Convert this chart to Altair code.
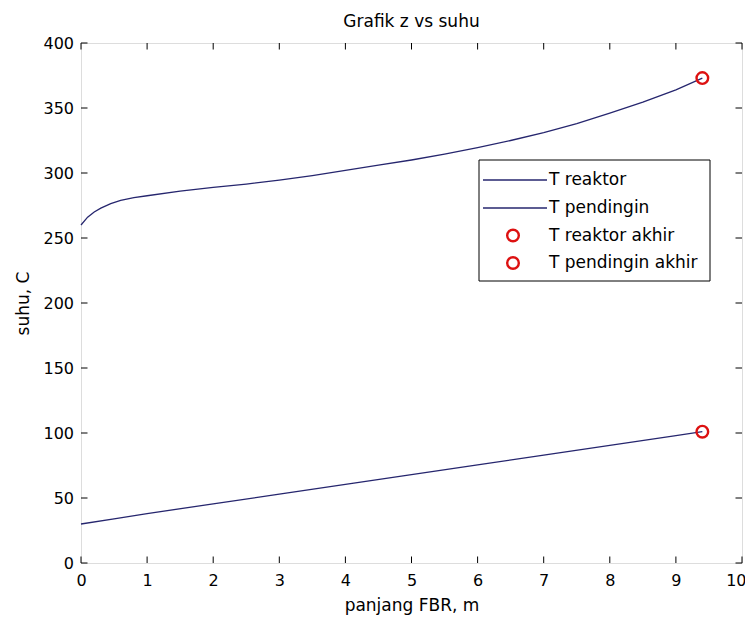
import altair as alt
import pandas as pd

# ---- data ----
x_reaktor = [0, 0.1, 0.2, 0.3, 0.45, 0.6, 0.8, 1.0, 1.5, 2.0, 2.5, 3.0, 3.5, 4.0,
             4.5, 5.0, 5.5, 6.0, 6.5, 7.0, 7.5, 8.0, 8.5, 9.0, 9.4]
t_reaktor = [260, 266, 270, 273, 276.5, 279, 281, 282.5, 286, 289, 291.5, 294.5, 298, 302,
             306, 310, 314.5, 319.5, 325, 331, 338, 346, 354.5, 364, 373]
x_pendingin = [0, 0.5, 1, 2, 3, 4, 5, 6, 7, 8, 9, 9.4]
t_pendingin = [30, 34, 38, 45.5, 53, 60.5, 68, 75.5, 83, 90.5, 98, 101]
end_x = [9.4, 9.4]
end_t = [373, 101]
legend_labels = ["T reaktor", "T pendingin", "T reaktor akhir", "T pendingin akhir"]
x_ticks = list(range(0, 11))
y_ticks = list(range(0, 401, 50))
chart_title = "Grafik z vs suhu"

W, H = 661, 520
LINE = "#26266e"
RED = "#dd1111"
FONT = "DejaVu Sans"
TL = 6.5
MSIZE = 135
MSTROKE = 2.4

lines_df = pd.DataFrame({
    "x": x_reaktor + x_pendingin,
    "t": t_reaktor + t_pendingin,
    "series": [legend_labels[0]] * len(x_reaktor) + [legend_labels[1]] * len(x_pendingin),
})
end_df = pd.DataFrame({"x": end_x, "t": end_t, "series": legend_labels[2:]})
xt_df = pd.DataFrame({"x": x_ticks})
yt_df = pd.DataFrame({"t": y_ticks})

xs = alt.Scale(domain=[0, 10], nice=False, zero=False)
ys = alt.Scale(domain=[0, 400], nice=False, zero=False)

last_x = x_ticks[-1]
axis_x = alt.Axis(values=x_ticks, format="d", ticks=False, tickSize=0, domain=False, grid=False,
                  labelFlush=False, labelPadding=9, labelFont=FONT, labelFontSize=16,
                  labelColor="black", labelOverlap=False,
                  labelAlign={"condition": {"test": f"datum.value === {last_x}", "value": "right"},
                              "value": "center"},
                  labelOffset={"condition": {"test": f"datum.value === {last_x}", "value": 4},
                               "value": 0},
                  title="panjang FBR, m", titleFont=FONT, titleFontSize=17, titleFontWeight="normal",
                  titleColor="black", titleX=W / 2, titleY=47, titleBaseline="alphabetic",
                  titleAlign="center")
axis_y = alt.Axis(values=y_ticks, format="d", ticks=False, tickSize=0, domain=False, grid=False,
                  labelFlush=False, labelPadding=7.5, labelFont=FONT, labelFontSize=16,
                  labelColor="black", labelBaseline="middle", labelOverlap=False,
                  title="suhu, C", titleFont=FONT, titleFontSize=17, titleFontWeight="normal",
                  titleColor="black", titleX=-58, titleY=H / 2, titleAngle=-90,
                  titleBaseline="middle", titleAlign="center")

X = alt.X("x:Q", scale=xs, axis=axis_x)
Y = alt.Y("t:Q", scale=ys, axis=axis_y)

lines = alt.Chart(lines_df).mark_line(color=LINE, strokeWidth=1.3).encode(
    x=X, y=Y, detail="series:N", order="x:Q")
ends = alt.Chart(end_df).mark_point(shape="circle", filled=False, color=RED, size=MSIZE,
                                    strokeWidth=MSTROKE, opacity=1).encode(x=X, y=Y)

xt_bottom = alt.Chart(xt_df).mark_rule(color="black", strokeWidth=1).encode(
    x=X, y=alt.value(H), y2=alt.value(H - TL))
xt_top = alt.Chart(xt_df).mark_rule(color="black", strokeWidth=1).encode(
    x=X, y=alt.value(0), y2=alt.value(TL))
yt_left = alt.Chart(yt_df).mark_rule(color="black", strokeWidth=1).encode(
    y=Y, x=alt.value(0), x2=alt.value(TL))
yt_right = alt.Chart(yt_df).mark_rule(color="black", strokeWidth=1).encode(
    y=Y, x=alt.value(W - TL), x2=alt.value(W))

one = pd.DataFrame({"a": [0]})

# ---- title as text above the plot ----
title_mark = alt.Chart(one).mark_text(align="center", baseline="alphabetic", font=FONT,
                                      fontSize=17, color="black").encode(
    x=alt.value(W / 2), y=alt.value(-16), text=alt.value(chart_title))

# ---- legend (drawn manually, MATLAB style) ----
leg_box = alt.Chart(one).mark_rect(fill="white", stroke="black", strokeWidth=1).encode(
    x=alt.value(398), x2=alt.value(629), y=alt.value(117), y2=alt.value(238))
leg_y = [137, 165, 192.5, 220]
leg_layers = [leg_box]
for i, lab in enumerate(legend_labels):
    if i < 2:
        leg_layers.append(alt.Chart(one).mark_rule(color=LINE, strokeWidth=1.3).encode(
            x=alt.value(402), x2=alt.value(466), y=alt.value(leg_y[i])))
    else:
        leg_layers.append(alt.Chart(one).mark_point(shape="circle", filled=False, color=RED,
                                                    size=MSIZE, strokeWidth=MSTROKE,
                                                    opacity=1).encode(
            x=alt.value(432), y=alt.value(leg_y[i])))
    leg_layers.append(alt.Chart(one).mark_text(align="left", baseline="middle", font=FONT,
                                               fontSize=17, color="black").encode(
        x=alt.value(468), y=alt.value(leg_y[i]), text=alt.value(lab)))

chart = alt.layer(
    lines, ends, xt_bottom, xt_top, yt_left, yt_right, title_mark, *leg_layers
).properties(
    width=W, height=H,
    autosize=alt.AutoSizeParams(type="none"),
    padding={"left": 73, "top": 35, "right": 3, "bottom": 52},
).configure_view(stroke="black", strokeWidth=1).configure(background="white")

chart.save("out.html", embed_options={"renderer": "svg", "actions": False})
